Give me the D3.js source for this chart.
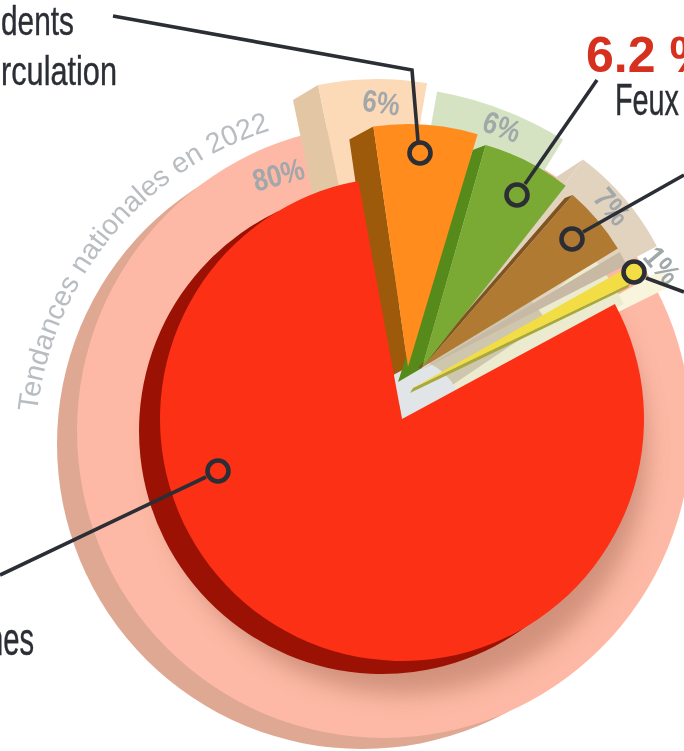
<!DOCTYPE html>
<html><head><meta charset="utf-8">
<script src="https://cdn.jsdelivr.net/npm/d3@7"></script>
<style>html,body{margin:0;padding:0;background:#fff;overflow:hidden}svg{display:block;filter:blur(0.5px)}</style>
</head><body><svg id="c" width="684" height="751" viewBox="0 0 684 751"></svg>
<script>
// ---- data ----
const categories = ["Red", "Accidents de la circulation", "Feux", "Brown", "Grey", "Yellow"];
const values2023 = [80, 6.9, 6.2, 4.9, 1, 1];
const categories2022 = ["Red", "Accidents de la circulation", "Feux", "Brown", "Yellow"];
const values2022 = [80, 6, 6, 7, 1];
const labels2022 = ["80%", "6%", "6%", "7%", "1%"];
const ringTitle = "Tendances nationales en 2022";
const captions = ["dents", "rculation", "Feux", "nes"];
const highlight = "6.2 %";

// ---- layout & style ----
const rad = d => d * Math.PI / 180;
const C = {x: 402, y: 419};
const colors = ["#fb3015", "#ff8c1c", "#7aaa34", "#b07a33", "#c8b9a5", "#f2dd45"];
const sideColors = [null, "#9c5a0a", "#568b1c", "#7f5420", null, "#a8a83c"];
const slice = [
  {ax: 402, ay: 419, r: 242, rot: 0},
  {ax: 408, ay: 367, r: 243, rot: 2.2, edge: "s", tip: [-24, 13], base: [-24, 13]},
  {ax: 422, ay: 368, r: 232, rot: 1.5, edge: "s", tip: [-13, 5], base: [-24, 14]},
  {ax: 423, ay: 367, r: 228, rot: 4.3, edge: "s", tip: [-8, 3], base: [-5, 1]},
  {ax: 421, ay: 370, r: 231, rot: 4.9},
  {ax: 413, ay: 388, r: 241, rot: 2.7, edge: "e", tip: [-2, 4], base: [-3, 5]}
];
const paleColors = [null, "#fcdab8", "#d5e3c3", "#e2d3bf", "#f8f5dc"];
const paleSide = [null, "#e3c7a5", null, "#e0d0bb", null];
const pale = [
  null,
  {ax: 377, ay: 370, r: 291, rot: -3.4, tip: [-25, 15], base: [-25, 15]},
  {ax: 374, ay: 446, r: 360, rot: -3.2},
  {ax: 426, ay: 368, r: 261, rot: 2.1, tip: [-26, 17], base: [-26, 17]},
  {ax: 402, ay: 419, r: 300, rot: 0}
];
const labelPos = [
  {x: 279, y: 177, a: -15}, {x: 381, y: 105, a: 8}, {x: 501, y: 129, a: 20},
  {x: 610, y: 208, a: 50}, {x: 660, y: 267, a: 50}
];
const callouts = [
  {c: [218, 471], l: [[0, 575], [206, 477]]},
  {c: [420, 153], l: [[113, 16], [412, 70], [418, 141]]},
  {c: [517, 195], l: [[597, 80], [525, 184]]},
  {c: [572, 239], l: [[684, 175], [583, 232]]},
  {c: [634, 272], l: [[684, 292], [646, 278]], fill: 5}
];

const svg = d3.select("#c");
const defs = svg.append("defs");
defs.append("filter").attr("id", "blur").attr("x", "-20%").attr("y", "-20%").attr("width", "140%").attr("height", "140%")
  .append("feGaussianBlur").attr("stdDeviation", 11);
defs.append("clipPath").attr("id", "ring").append("circle").attr("cx", 384).attr("cy", 431).attr("r", 307);

const start = rad(61.6);
const pie = d3.pie().sort(null).value(d => d).startAngle(start).endAngle(start + 2 * Math.PI);
const pie22 = d3.pie().sort(null).value(d => d).startAngle(rad(63.7)).endAngle(rad(63.7) + 2 * Math.PI);
const arcs = pie(values2023), arcs22 = pie22(values2022);
const arc = d3.arc().innerRadius(0);
const pt = (L, a, r) => [L.ax + r * Math.sin(a), L.ay - r * Math.cos(a)];

// ring
svg.append("circle").attr("cx", 362).attr("cy", 444).attr("r", 305).attr("fill", "#dfa893");
svg.append("circle").attr("cx", 384).attr("cy", 431).attr("r", 307).attr("fill", "#fdb9a5");
svg.append("g").attr("clip-path", "url(#ring)")
  .append("circle").attr("cx", 402).attr("cy", 449).attr("r", 245).attr("fill", "#c98a74").attr("opacity", .85).attr("filter", "url(#blur)");

// ring title on a curved path
const tp = d3.path();
tp.arc(370, 450, 335, rad(-173.5), rad(-95));
defs.append("path").attr("id", "tpath").attr("d", tp.toString());
svg.append("text").attr("font-family", "Liberation Sans").attr("font-size", 28.5).attr("fill", "#b9bdc1")
  .append("textPath").attr("href", "#tpath").text(ringTitle);

// 2022 wedges
const wedgeG = svg.append("g");
[4, 3, 1, 2].forEach(i => {
  const L = pale[i], d = arcs22[i];
  const s = d.startAngle + rad(L.rot), e = d.endAngle + rad(L.rot);
  if (L.tip) {
    const p = pt(L, s, L.r), q = [L.ax, L.ay];
    wedgeG.append("path").attr("fill", paleSide[i])
      .attr("d", d3.line()([q, p, [p[0] + L.tip[0], p[1] + L.tip[1]], [q[0] + L.base[0], q[1] + L.base[1]]]));
  }
  wedgeG.append("path").attr("fill", paleColors[i])
    .attr("transform", `translate(${L.ax},${L.ay})`)
    .attr("d", arc({outerRadius: L.r, startAngle: s, endAngle: e}));
});
// 2022 labels
svg.append("g").selectAll("text").data(labels2022).join("text")
  .attr("transform", (d, i) => `translate(${labelPos[i].x},${labelPos[i].y}) rotate(${labelPos[i].a}) scale(.84,1)`)
  .attr("text-anchor", "middle").attr("dominant-baseline", "middle")
  .attr("font-family", "Liberation Sans").attr("font-weight", 700)
  .attr("font-size", 31).attr("fill", "#a2a7aa").text(d => d);

// cream base behind the small slices, beige fill above them, pale grey strip along the red edge
svg.append("path").attr("transform", `translate(${C.x},${C.y})`).attr("fill", "#ecebcf")
  .attr("d", arc({outerRadius: 250, startAngle: rad(50), endAngle: arcs[0].startAngle + rad(1)}));
svg.append("path").attr("transform", `translate(${C.x},${C.y})`).attr("fill", "#cfc6ae")
  .attr("d", arc({outerRadius: 175, startAngle: rad(10), endAngle: rad(56)}));
svg.append("path").attr("transform", `translate(${C.x},${C.y})`).attr("fill", "#e2e5e8")
  .attr("d", arc({outerRadius: 62, startAngle: arcs[0].endAngle - 2 * Math.PI, endAngle: arcs[0].startAngle}));

// side faces
arcs.forEach((d, i) => {
  const L = slice[i];
  if (!L.edge) return;
  const a = (L.edge === "s" ? d.startAngle : d.endAngle) + rad(L.rot);
  const p = pt(L, a, L.r), q = [L.ax, L.ay];
  svg.append("path").attr("fill", sideColors[i])
    .attr("d", d3.line()([q, p, [p[0] + L.tip[0], p[1] + L.tip[1]], [q[0] + L.base[0], q[1] + L.base[1]]]));
});

// red sector with its depth
svg.append("path").attr("transform", "translate(382,431)").attr("fill", "#9b1205")
  .attr("d", arc({outerRadius: 243, startAngle: arcs[0].startAngle + rad(30), endAngle: arcs[0].endAngle - rad(15)}));
svg.append("path").attr("transform", `translate(${C.x},${C.y})`).attr("fill", colors[0])
  .attr("d", arc({outerRadius: slice[0].r, startAngle: arcs[0].startAngle, endAngle: arcs[0].endAngle}));

// top faces
[5, 4, 3, 2, 1].forEach(i => {
  const L = slice[i], d = arcs[i];
  svg.append("path").attr("transform", `translate(${L.ax},${L.ay})`).attr("fill", colors[i])
    .attr("d", arc({outerRadius: L.r, startAngle: d.startAngle + rad(L.rot), endAngle: d.endAngle + rad(L.rot)}));
});

// callouts
const ink = "#2b2e35";
const cg = svg.append("g").attr("fill", "none").attr("stroke", ink);
callouts.forEach(k => {
  cg.append("path").attr("stroke-width", 3.6).attr("d", d3.line()(k.l));
  cg.append("circle").attr("cx", k.c[0]).attr("cy", k.c[1]).attr("r", 10.5).attr("stroke-width", 4.6)
    .attr("fill", k.fill ? colors[k.fill] : "none");
});

// captions
const capt = [
  {x: 1, y: 35, w: 73, fs: 41}, {x: 1, y: 85, w: 116, fs: 41}, {x: 615, y: 115, w: 64, fs: 44}, {x: -13, y: 655, w: 47, fs: 46}
];
svg.append("g").selectAll("text").data(captions).join("text")
  .attr("x", (d, i) => capt[i].x).attr("y", (d, i) => capt[i].y)
  .attr("textLength", (d, i) => capt[i].w).attr("lengthAdjust", "spacingAndGlyphs")
  .attr("font-family", "Liberation Sans").attr("font-size", (d, i) => capt[i].fs).attr("fill", ink)
  .attr("stroke", ink).attr("stroke-width", 0.4).text(d => d);
svg.append("text").attr("x", 586).attr("y", 72).attr("font-family", "Liberation Sans").attr("font-weight", 700)
  .attr("font-size", 50).attr("fill", "#d6311f").text(highlight);
</script></body></html>
